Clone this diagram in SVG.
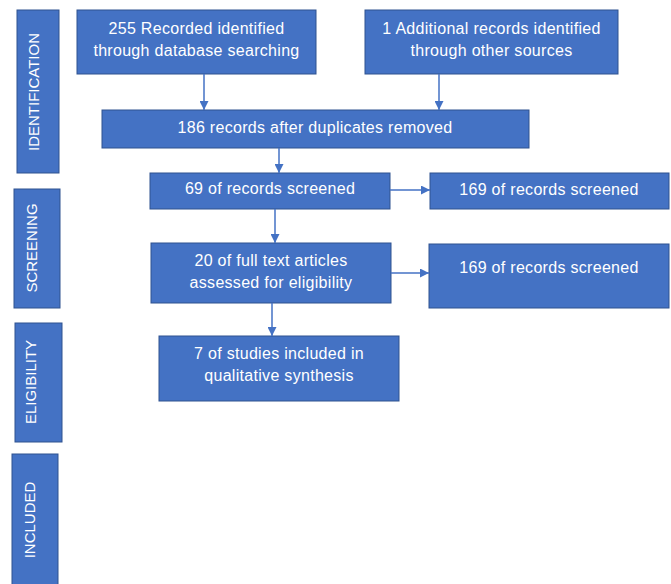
<svg xmlns="http://www.w3.org/2000/svg" width="671" height="584" viewBox="0 0 671 584">
<defs>
<marker id="ah" viewBox="0 0 10 10" refX="10" refY="5" markerWidth="9" markerHeight="9" markerUnits="userSpaceOnUse" orient="auto">
<path d="M0,0 L10,5 L0,10 Z" fill="#4472C4"/>
</marker>
<style>
.box{fill:#4472C4;stroke:#2F528F;stroke-width:1}
.t{fill:#ffffff;font-family:"Liberation Sans",Arial,sans-serif;font-size:16px;letter-spacing:0.3px;text-anchor:middle}
.s{fill:#ffffff;font-family:"Liberation Sans",Arial,sans-serif;font-size:15px;text-anchor:middle}
.c{stroke:#4472C4;stroke-width:1.5;fill:none;marker-end:url(#ah)}
</style>
</defs>
<rect width="671" height="584" fill="#ffffff"/>
<g id="stage-identification"><rect class="box" x="17" y="10" width="42" height="163"/><text class="s" transform="translate(39,92) rotate(-90)">IDENTIFICATION</text></g>
<g id="stage-screening"><rect class="box" x="14" y="189" width="46" height="119"/><text class="s" transform="translate(37,248) rotate(-90)">SCREENING</text></g>
<g id="stage-eligibility"><rect class="box" x="15" y="323" width="47" height="119"/><text class="s" transform="translate(36,382) rotate(-90)">ELIGIBILITY</text></g>
<g id="stage-included"><rect class="box" x="12" y="454" width="46" height="132"/><text class="s" transform="translate(35,520) rotate(-90)">INCLUDED</text></g>

<g id="n1"><rect class="box" x="77" y="10" width="239" height="64"/><text class="t" x="196.5" y="34">255 Recorded identified</text><text class="t" x="196.5" y="56">through database searching</text></g>
<g id="n2"><rect class="box" x="365" y="10" width="253" height="64"/><text class="t" x="491.5" y="34">1 Additional records identified</text><text class="t" x="491.5" y="56">through other sources</text></g>
<g id="n3"><rect class="box" x="102" y="110" width="427" height="38"/><text class="t" x="315" y="133">186 records after duplicates removed</text></g>
<g id="n4"><rect class="box" x="150" y="173" width="240" height="36"/><text class="t" x="270" y="194">69 of records screened</text></g>
<g id="n5"><rect class="box" x="430" y="173" width="239" height="36"/><text class="t" x="549" y="195">169 of records screened</text></g>
<g id="n6"><rect class="box" x="151" y="243" width="240" height="60"/><text class="t" x="271" y="266">20 of full text articles</text><text class="t" x="271" y="288">assessed for eligibility</text></g>
<g id="n7"><rect class="box" x="429" y="244" width="240" height="64"/><text class="t" x="549" y="273">169 of records screened</text></g>
<g id="n8"><rect class="box" x="159" y="336" width="240" height="65"/><text class="t" x="279" y="359">7 of studies included in</text><text class="t" x="279" y="381">qualitative synthesis</text></g>

<g id="connectors">
<line class="c" x1="204" y1="74" x2="204" y2="110"/>
<line class="c" x1="439" y1="74" x2="439" y2="110"/>
<line class="c" x1="279" y1="148" x2="279" y2="173"/>
<line class="c" x1="275" y1="209" x2="275" y2="243"/>
<line class="c" x1="272" y1="303" x2="272" y2="336"/>
<line class="c" x1="390" y1="190" x2="430" y2="190"/>
<line class="c" x1="391" y1="273" x2="429" y2="273"/>
</g>
</svg>
